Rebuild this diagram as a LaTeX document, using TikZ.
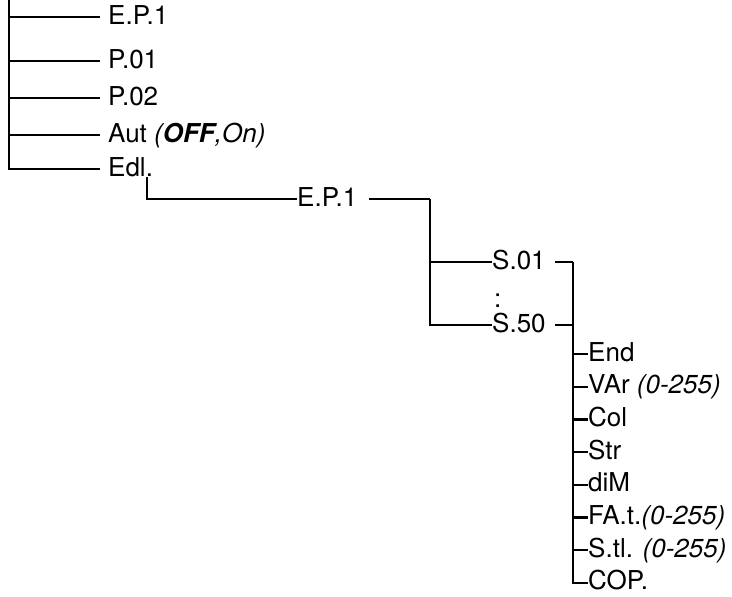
\documentclass[tikz,border=0pt]{standalone}
\usepackage{fontspec}
\setmainfont{TeX Gyre Heros}
\usetikzlibrary{positioning}
\tikzset{
  menu/.style={anchor=west, inner sep=0pt, text height=19pt, text depth=5pt,
               font=\fontsize{26}{30}\selectfont},
  wire/.style={line width=2.4pt},
}

\begin{document}
\begin{tikzpicture}[x=1pt, y=-1pt]
  \useasboundingbox (0,0) rectangle (732,597);

  % top level menu, hanging from the left rail
  \coordinate (top) at (9,0);
  \foreach \n/\y/\t in {epa/17/E.P.1, pa/61/P.01, pb/98/P.02,
                        aut/135/{Aut \textit{(\textbf{OFF},On)}}, edl/169/Edl.} {
    \node[menu] (\n) at (108,\y) {\t};
    \coordinate (r\n) at (9,\y);
    \draw[wire, shorten >=8pt] (r\n) -- (\n.west);
  }
  \draw[wire, shorten >=8pt] (top) |- (edl.west);

  % Edl. opens the program E.P.1
  \coordinate (edlout) at (147,177);
  \node[menu] (ep) at (297,199) {E.P.1};
  \draw[wire] (edlout) |- (ep.west);
  \coordinate (epj) at (430,199);
  \draw[wire, shorten <=12pt] (ep.east) -- (epj);

  % steps S.01 ... S.50
  \node[menu] (s01) at (492,262) {S.01};
  \node[menu] (dots) at (494,300) {:};
  \node[menu] (s50) at (492,325) {S.50};
  \draw[wire] (epj) |- (s50.west);
  \draw[wire] (epj |- s01.west) -- (s01.west);
  \coordinate (sj) at (573,262);
  \draw[wire, shorten <=9pt] (s01.east) -- (sj);
  \draw[wire, shorten <=9pt] (s50.east) -- (sj |- s50.west);

  % parameters of one step
  \foreach \n/\t [count=\i from 0] in {end/End, var/{VAr \textit{(0-255)}}, col/Col,
      str/Str, dim/diM, fat/{FA.t.\textit{(0-255)}}, stl/{S.tl. \textit{(0-255)}}, cop/COP.} {
    \node[menu] (\n) at (588,{354+32.7*\i}) {\t};
    \draw[wire] (sj |- \n.west) -- (\n.west);
  }
  \draw[wire] (sj) |- (cop.west);
\end{tikzpicture}
\end{document}
